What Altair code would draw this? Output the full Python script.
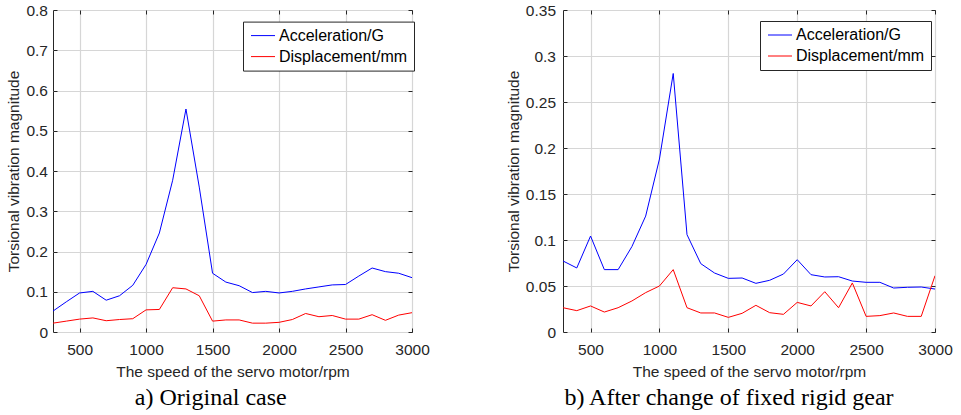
import altair as alt
import pandas as pd

# ---------------- data ----------------
speed = [300, 400, 500, 600, 700, 800, 900, 1000, 1100, 1200, 1300, 1400, 1500, 1600,
         1700, 1800, 1900, 2000, 2100, 2200, 2300, 2400, 2500, 2600, 2700, 2800, 2900, 3000]

acc_a = [0.052, 0.075, 0.097, 0.101, 0.079, 0.090, 0.116, 0.168, 0.246, 0.377, 0.554, 0.360,
         0.146, 0.124, 0.115, 0.098, 0.101, 0.097, 0.101, 0.107, 0.112, 0.117, 0.118, 0.139,
         0.159, 0.150, 0.146, 0.135]
disp_a = [0.022, 0.027, 0.032, 0.035, 0.028, 0.031, 0.033, 0.055, 0.056, 0.110, 0.107, 0.090,
          0.027, 0.030, 0.030, 0.022, 0.022, 0.024, 0.031, 0.046, 0.038, 0.041, 0.032, 0.032,
          0.043, 0.029, 0.042, 0.048]

acc_b = [0.0772, 0.0696, 0.1043, 0.0678, 0.0678, 0.0928, 0.126, 0.188, 0.281, 0.1058, 0.0743,
         0.0641, 0.0583, 0.0587, 0.0529, 0.0562, 0.063, 0.0786, 0.0623, 0.0598, 0.0601, 0.0554,
         0.054, 0.054, 0.0478, 0.0486, 0.0489, 0.0467]
disp_b = [0.0264, 0.0232, 0.0283, 0.0217, 0.0264, 0.0337, 0.0428, 0.050, 0.0678, 0.0264, 0.0207,
          0.0207, 0.0159, 0.0203, 0.029, 0.021, 0.0192, 0.0322, 0.0283, 0.0438, 0.0264, 0.0533,
          0.017, 0.0178, 0.0207, 0.017, 0.017, 0.0612]

series_names = ["Acceleration/G", "Displacement/mm"]
series_colors = ["#0000ff", "#ff0000"]

x_ticks = [500, 1000, 1500, 2000, 2500, 3000]
y_ticks_a = [0, 0.1, 0.2, 0.3, 0.4, 0.5, 0.6, 0.7, 0.8]
y_ticks_b = [0, 0.05, 0.1, 0.15, 0.2, 0.25, 0.3, 0.35]

x_title = "The speed of the servo motor/rpm"
y_title = "Torsional vibration magnitude"
caption_a = "a) Original case"
caption_b = "b) After change of fixed rigid gear"


def to_long(acc, disp):
    rows = []
    for s, a in zip(speed, acc):
        rows.append({"speed": s, "value": a, "series": series_names[0], "order": 0})
    for s, d in zip(speed, disp):
        rows.append({"speed": s, "value": d, "series": series_names[1], "order": 1})
    return pd.DataFrame(rows)


TXT = "#262626"
FONT = "Liberation Sans"
GRID = "#d6d6d6"
FS = 15.5


def panel(df, yticks, ymax, width, height, ytitle_x, ylabel_pad, legend_x, legend_y,
          caption, cap_dx):
    xscale = alt.Scale(domain=[300, 3000], nice=False, zero=False)
    yscale = alt.Scale(domain=[0, ymax], nice=False, zero=False)

    main = alt.Chart(df).mark_line(strokeWidth=1, clip=True).encode(
        x=alt.X("speed:Q", scale=xscale,
                axis=alt.Axis(orient="bottom", values=x_ticks, format="d", offset=-4,
                              tickSize=4, tickColor=TXT, domain=False, grid=True,
                              gridColor=GRID, gridWidth=1.2, labelPadding=10.5,
                              labelFlush=False, labelOverlap=False,
                              labelFontSize=FS, labelColor=TXT, labelFont=FONT,
                              title=x_title, titleFont=FONT, titleFontSize=FS,
                              titleFontWeight="normal", titleColor=TXT, titleY=36.2,
                              titleBaseline="top")),
        y=alt.Y("value:Q", scale=yscale,
                axis=alt.Axis(orient="left", values=yticks, format=".2~f", offset=-4,
                              tickSize=4, tickColor=TXT, domain=False, grid=True,
                              gridColor=GRID, gridWidth=1.2, labelPadding=ylabel_pad,
                              labelFlush=False, labelOverlap=False,
                              labelFontSize=FS, labelColor=TXT, labelFont=FONT,
                              title=y_title, titleFont=FONT, titleFontSize=FS,
                              titleFontWeight="normal", titleColor=TXT, titleX=ytitle_x,
                              titleY=height / 2, titleAngle=270, titleAlign="center",
                              titleBaseline="middle")),
        color=alt.Color("series:N", sort=series_names,
                        scale=alt.Scale(domain=series_names, range=series_colors),
                        legend=alt.Legend(title=None, orient="none", legendX=legend_x,
                                          legendY=legend_y, symbolType="M-1,0H3",
                                          symbolSize=144, symbolStrokeWidth=1,
                                          labelFontSize=16, labelFont=FONT,
                                          labelColor="black", labelOffset=14,
                                          strokeColor=TXT, fillColor="white",
                                          padding=6, rowPadding=5, labelLimit=300)),
        order=alt.Order("order:Q"),
    )

    ticks = alt.Chart(df).mark_point(opacity=0).encode(
        x=alt.X("speed:Q", scale=xscale,
                axis=alt.Axis(orient="top", values=x_ticks, labels=False, offset=-4,
                              tickSize=4, tickColor=TXT, domain=False, grid=False,
                              title=None)),
        y=alt.Y("value:Q", scale=yscale,
                axis=alt.Axis(orient="right", values=yticks, labels=False, offset=-4,
                              tickSize=4, tickColor=TXT, domain=False, grid=False,
                              title=None)),
    )

    return alt.layer(main, ticks).resolve_axis(x="independent", y="independent").properties(
        width=width, height=height,
        title=alt.TitleParams(caption, orient="bottom", font="Liberation Serif", fontSize=24,
                              fontWeight="normal", color="black", offset=6, dx=cap_dx,
                              anchor="middle", frame="group"))


left = panel(to_long(acc_a, disp_a), y_ticks_a, 0.8, 359, 322, -43.7, 5.5, 190, 11.6,
             caption_a, -21.7)
right = panel(to_long(acc_b, disp_b), y_ticks_b, 0.35, 372, 322, -53.7, 7.5, 197, 11,
              caption_b, -20)

chart = alt.hconcat(left, right, spacing=151, bounds="flush").resolve_scale(
    color="independent"
).configure_view(
    stroke=TXT, strokeWidth=1
).properties(padding={"left": 5, "top": 2, "right": 0, "bottom": 0})

chart.save("out.html", embed_options={"renderer": "svg", "actions": False})
